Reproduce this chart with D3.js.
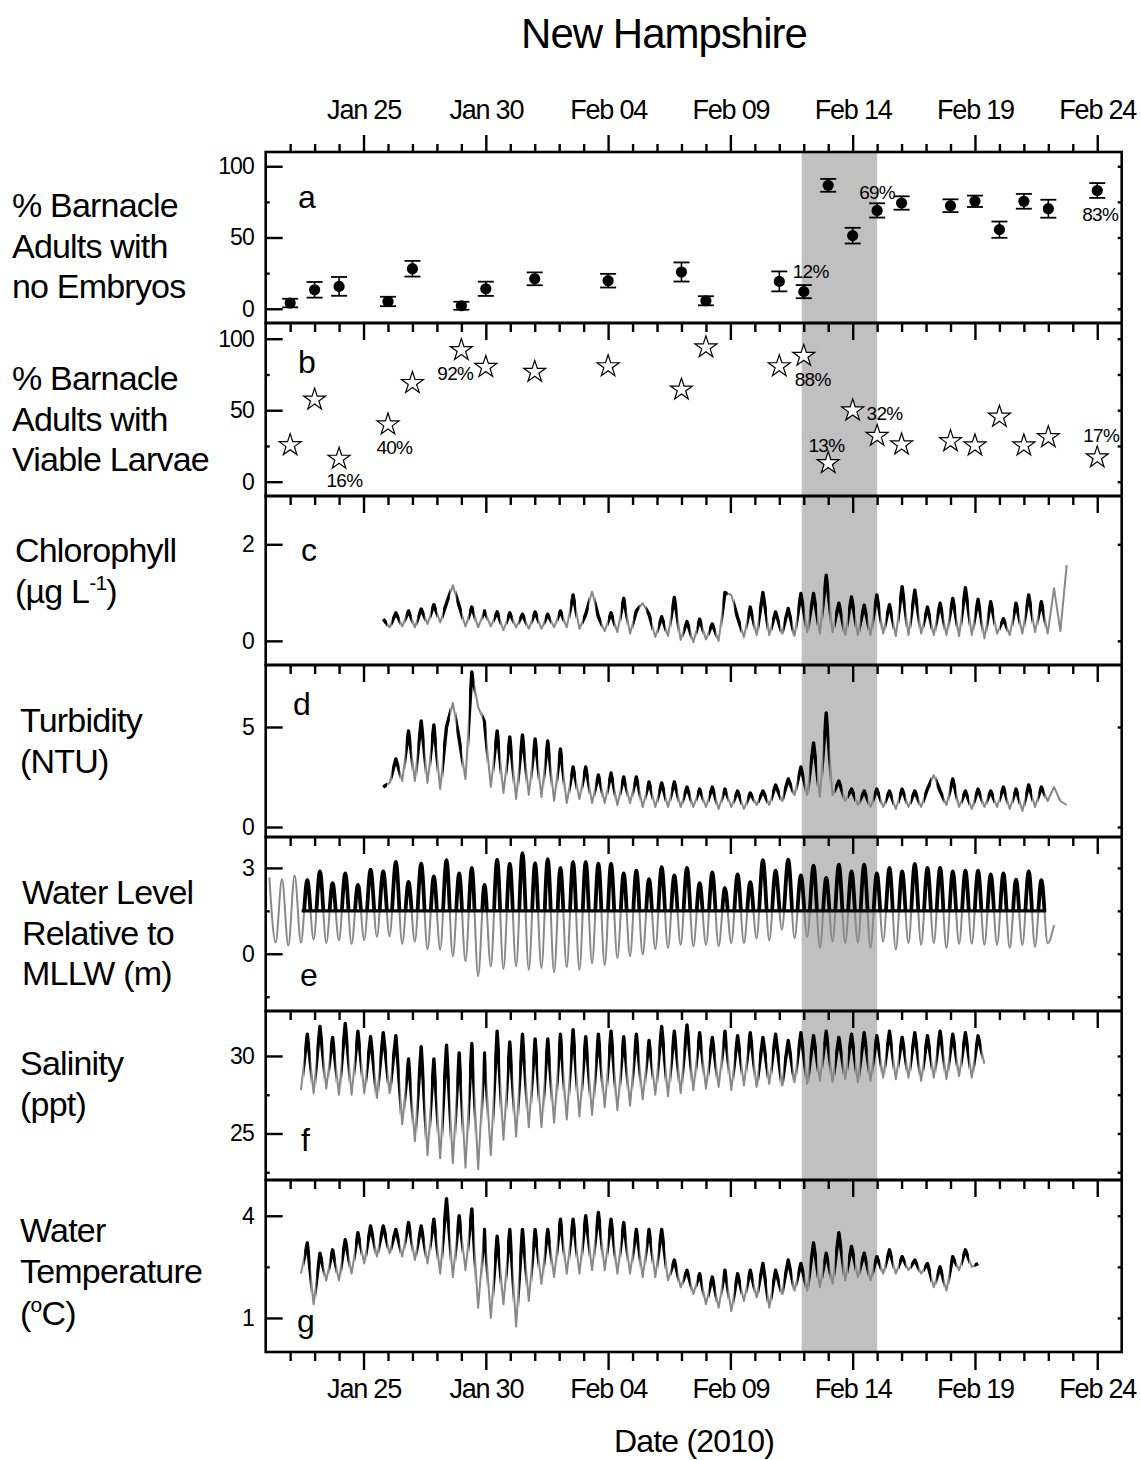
<!DOCTYPE html>
<html>
<head>
<meta charset="utf-8">
<title>New Hampshire</title>
<script src="https://d3js.org/d3.v7.min.js"></script>
<style>
  body { margin: 0; background: #fff; }
  text { font-family: "Liberation Sans", Arial, sans-serif; fill: #000; }
  .frame { fill: none; stroke: #000; stroke-width: 2.6; }
  .axis path { display: none; }
  .axis line { stroke: #000; stroke-width: 2.4; }
  .xaxis text { font-size: 27px; letter-spacing: -1.2px; }
  .yaxis text { font-size: 23px; letter-spacing: -1px; }
  .gray { fill: none; stroke: #888; stroke-width: 2; stroke-linejoin: round; }
  .black { fill: none; stroke: #000; stroke-width: 3.4; stroke-linejoin: round; }
  .lab { font-size: 34px; letter-spacing: -0.8px; }
  .letter { font-size: 32px; }
  .pct { font-size: 19px; letter-spacing: -0.7px; }
</style>
</head>
<body>
<svg width="1141" height="1460"></svg>
<script>
// ---------- survey data (panels a, b) ----------
var surveyDates = ["2010-01-22","2010-01-23","2010-01-24","2010-01-26","2010-01-27","2010-01-29","2010-01-30",
  "2010-02-01","2010-02-04","2010-02-07","2010-02-08","2010-02-11","2010-02-12","2010-02-13","2010-02-14",
  "2010-02-15","2010-02-16","2010-02-18","2010-02-19","2010-02-20","2010-02-21","2010-02-22","2010-02-24"];
var pctNoEmbryos = [4, 13.3, 15.7, 5.1, 28.1, 2.1, 14, 21, 19.7, 25.8, 5.6, 19.2, 12, 86.6, 51.3, 69, 74.2, 72.3, 75.4, 55.5, 75.4, 70.2, 83];
var pctNoEmbryosErr = [3, 5.5, 6.6, 3.3, 5.5, 2.8, 5, 4.5, 4.8, 6.7, 3.2, 7, 4.6, 4.5, 5.5, 5, 4.7, 4.5, 4, 5.7, 5.2, 6.3, 5.2];
var pctViableLarvae = [25.5, 57.4, 16, 40, 69, 92, 80.2, 76.8, 80.7, 64.4, 93.9, 80.7, 88, 13, 49.8, 32, 26, 28.3, 25.3, 45.4, 25.3, 31.1, 17];
var labelledNoEmbryos = [12, 15, 22];
var labelledViable = [2, 3, 5, 12, 13, 15, 22];

// spawning window (grey band)
var spawnWindow = ["2010-02-11T22:00", "2010-02-15T00:00"];

// ---------- sonde records: one value per half tidal cycle ----------
var tideOrigin = "2010-01-21T03:33";
var tideStepHours = 6.21;
var loggerRecord = ["2010-01-22T11:15", "2010-02-21T22:00"];
var inundationLevel = 1.5;

var waterLevelFirst = 0;
var waterLevel = [2.67, 0.39, 2.61, 0.28, 2.74, 0.39, 2.57, 0.50, 2.88, 0.37, 2.47, 0.47, 2.81, 0.34, 2.41, 0.47,
  2.94, 0.59, 2.88, 0.61, 3.21, 0.35, 2.51, 0.42, 3.15, 0.16, 2.70, 0.14, 3.27, -0.09, 2.81, -0.26, 3.0, -0.79,
  2.41, -0.44, 3.29, -0.53, 3.15, -0.44, 3.52, -0.56, 3.17, -0.5, 3.31, -0.65, 3.0, -0.47, 3.21, -0.56, 3.21, -0.33,
  3.15, -0.39, 3.15, -0.15, 2.81, -0.09, 2.9, -0.03, 2.61, 0.16, 3.03, 0.20, 2.74, 0.31, 3.0, 0.26, 2.47, 0.31,
  2.84, 0.26, 2.30, 0.37, 2.77, 0.37, 2.50, 0.54, 3.27, 0.46, 2.9, 0.84, 3.29, 0.54, 2.74, 0.59, 3.08, 0.2,
  2.65, 0.43, 3.11, 0.37, 2.88, 0.39, 3.11, 0.2, 2.81, 0.43, 3.0, 0.14, 2.88, 0.37, 3.14, 0.31, 3.0, 0.37,
  3.0, 0.2, 2.88, 0.34, 2.9, 0.35, 2.9, 0.31, 2.77, 0.31, 2.81, 0.2, 2.59, 0.31, 2.88, 0.24, 2.57, 0.37, 1.0];

var chlorophyllFirst = 18;
var chlorophyll = [0.45, 0.28, 0.58, 0.30, 0.62, 0.28, 0.66, 0.35, 0.75, 0.38, 0.78, 1.15, 0.72, 0.30, 0.70, 0.28,
  0.62, 0.30, 0.60, 0.22, 0.58, 0.28, 0.55, 0.25, 0.60, 0.25, 0.55, 0.28, 0.62, 0.28, 0.95, 0.25, 0.55, 1.02,
  0.50, 0.20, 0.58, 0.18, 0.88, 0.15, 0.62, 0.78, 0.55, 0.08, 0.50, 0.10, 0.90, 0.02, 0.40, -0.03, 0.45, 0.03,
  0.35, 0.00, 1.00, 0.95, 0.48, 0.08, 0.70, 0.12, 1.00, 0.12, 0.60, 0.15, 0.67, 0.10, 0.98, 0.18, 0.98, 0.15,
  1.36, 0.18, 0.78, 0.12, 0.91, 0.12, 0.74, 0.12, 0.95, 0.15, 0.75, 0.10, 1.12, 0.12, 1.05, 0.15, 0.70, 0.12,
  0.78, 0.12, 0.88, 0.10, 1.10, 0.12, 0.86, 0.05, 0.81, 0.15, 0.46, 0.12, 0.78, 0.15, 0.95, 0.18, 0.81, 0.15,
  1.09, 0.20, 1.57];

var turbidityFirst = 18;
var turbidity = [2.0, 2.2, 3.4, 2.3, 4.8, 2.3, 5.3, 2.2, 5.1, 1.9, 5.0, 6.2, 4.4, 2.4, 7.75, 6.0, 5.25, 2.0,
  4.8, 1.7, 4.5, 1.4, 4.6, 1.6, 4.4, 1.5, 4.3, 1.3, 3.9, 1.2, 3.0, 1.4, 3.0, 1.2, 2.6, 1.2, 2.7, 1.1, 2.5, 1.2,
  2.5, 1.0, 2.25, 1.0, 2.2, 1.0, 2.25, 1.0, 2.0, 1.0, 1.9, 1.0, 2.0, 0.9, 1.9, 1.0, 1.8, 0.9, 1.7, 1.1, 1.8, 1.1,
  2.1, 1.3, 2.4, 1.6, 3.0, 1.6, 4.2, 1.5, 5.7, 1.6, 2.3, 1.3, 1.9, 1.1, 1.8, 1.0, 1.9, 1.0, 1.8, 0.9, 1.9, 1.0,
  1.8, 1.0, 1.9, 2.6, 1.8, 1.1, 2.4, 1.0, 1.8, 0.9, 1.9, 1.0, 1.8, 1.0, 2.0, 0.9, 1.9, 0.8, 2.1, 1.0, 2.0, 1.3,
  2.0, 1.3, 1.1];

var salinityFirst = 5;
var salinity = [27.8, 31.4, 27.6, 31.9, 27.9, 31.2, 27.5, 32.1, 27.5, 31.6, 27.6, 31.25, 27.3, 31.5, 27.6, 31.3,
  25.6, 29.8, 24.5, 30.6, 23.6, 29.8, 23.4, 30.7, 23.1, 30.2, 22.8, 30.8, 22.7, 30.2, 23.6, 31.6, 24.6, 30.9,
  24.8, 31.4, 25.4, 31.1, 25.4, 31.1, 25.7, 31.4, 25.9, 31.7, 26.1, 31.25, 26.2, 31.4, 26.7, 31.6, 26.5, 31.25,
  26.8, 31.4, 27.2, 31.0, 27.5, 31.9, 27.4, 31.6, 27.6, 32.0, 27.8, 31.5, 27.9, 31.2, 28.0, 31.6, 27.8, 31.3,
  28.1, 31.5, 28.0, 31.2, 28.2, 31.4, 28.1, 31.0, 28.3, 31.5, 28.2, 31.3, 28.4, 31.6, 28.3, 31.2, 28.5, 31.4,
  28.3, 31.5, 28.4, 31.3, 28.6, 31.6, 28.5, 31.2, 28.6, 31.5, 28.4, 31.3, 28.6, 31.6, 28.5, 31.4, 28.7, 31.5,
  28.6, 31.3, 29.5];

var temperatureFirst = 5;
var temperature = [2.3, 3.2, 1.4, 2.9, 2.1, 3.0, 2.1, 3.3, 2.3, 3.5, 2.6, 3.7, 2.8, 3.7, 2.9, 3.6, 2.8, 3.8,
  2.7, 3.7, 2.6, 3.9, 2.3, 4.5, 2.2, 4.0, 2.4, 4.2, 1.3, 3.6, 1.0, 3.4, 1.4, 3.6, 0.75, 3.6, 1.5, 3.6, 2.0,
  3.6, 2.2, 3.9, 2.3, 3.9, 2.3, 4.0, 2.4, 4.1, 2.4, 3.9, 2.3, 3.8, 2.3, 3.6, 2.2, 3.6, 2.2, 3.6, 2.1, 2.7, 1.9,
  2.4, 1.7, 2.3, 1.4, 2.2, 1.3, 2.4, 1.2, 2.3, 1.5, 2.4, 1.6, 2.6, 1.3, 2.4, 1.7, 2.7, 1.8, 2.6, 1.8, 3.2, 1.9,
  2.9, 2.0, 3.5, 2.1, 3.1, 2.2, 2.9, 2.1, 2.8, 2.3, 3.0, 2.3, 2.8, 2.4, 2.7, 2.3, 2.6, 1.9, 2.5, 1.8, 2.8, 2.4,
  3.0, 2.5, 2.6];

// ---------- layout ----------
var svg = d3.select("svg");
svg.append("rect").attr("width", 1141).attr("height", 1460).attr("fill", "#fff");

var left = 265.7, right = 1121.7, top0 = 152, bottom0 = 1352;
var parseDay = d3.timeParse("%Y-%m-%d");
var parseTime = d3.timeParse("%Y-%m-%dT%H:%M");
var x = d3.scaleTime().domain([parseDay("2010-01-21"), parseDay("2010-02-25")]).range([left, right]);

var origin = parseTime(tideOrigin);
function gridTime(k) { return new Date(origin.getTime() + k * tideStepHours * 36e5); }
function toPoints(values, first) {
  return values.map(function(v, i) { return { t: gridTime(first + i), v: v }; });
}
var record = loggerRecord.map(parseTime);

var panels = [
  { id: "a", top: 152, bottom: 323, domain: [-10, 110], ticks: [0, 50, 100], minor: [25, 75],
    label: ["% Barnacle", "Adults with", "no Embryos"], lx: 12, ly: 217, letter: [298, 208] },
  { id: "b", top: 323, bottom: 496, domain: [-10, 111], ticks: [0, 50, 100], minor: [25, 75],
    label: ["% Barnacle", "Adults with", "Viable Larvae"], lx: 12, ly: 390, letter: [298, 373] },
  { id: "c", top: 496, bottom: 665, domain: [-0.5, 3.0], ticks: [0, 2], minor: [],
    label: ["Chlorophyll", null], lx: 15, ly: 562, letter: [301, 561] },
  { id: "d", top: 665, bottom: 837, domain: [-0.5, 8.1], ticks: [0, 5], minor: [],
    label: ["Turbidity", "(NTU)"], lx: 20, ly: 732, letter: [293, 715] },
  { id: "e", top: 837, bottom: 1011, domain: [-2, 4.08], ticks: [0, 3], minor: [-1.5, 1.5],
    label: ["Water Level", "Relative to", "MLLW (m)"], lx: 22, ly: 904, letter: [300, 986] },
  { id: "f", top: 1011, bottom: 1180, domain: [22, 32.9], ticks: [25, 30], minor: [22.5, 27.5],
    label: ["Salinity", "(ppt)"], lx: 20, ly: 1075, letter: [301, 1151] },
  { id: "g", top: 1180, bottom: 1352, domain: [0, 5.05], ticks: [1, 4], minor: [2.5],
    label: ["Water", "Temperature", null], lx: 20, ly: 1242, letter: [297, 1332] }
];
panels.forEach(function(p) {
  p.y = d3.scaleLinear().domain(p.domain).range([p.bottom, p.top]);
});
var P = {};
panels.forEach(function(p) { P[p.id] = p; });

// clip paths per panel
var defs = svg.append("defs");
panels.forEach(function(p) {
  defs.append("clipPath").attr("id", "clip-" + p.id).append("rect")
    .attr("x", left).attr("y", p.top).attr("width", right - left).attr("height", p.bottom - p.top);
});

// grey spawning band
var band = spawnWindow.map(parseTime);
svg.append("rect").attr("x", x(band[0])).attr("y", top0)
  .attr("width", x(band[1]) - x(band[0])).attr("height", bottom0 - top0).attr("fill", "#c0c0c0");

// inundation intervals from the water level record
function aboveIntervals(values, first, level) {
  var out = [], start = values[0] > level ? gridTime(first) : null;
  for (var i = 1; i < values.length; i++) {
    var a = values[i - 1], b = values[i];
    if ((a > level) !== (b > level)) {
      var t = gridTime(first + i - 1 + (level - a) / (b - a));
      if (b > level) start = t; else { out.push([start, t]); start = null; }
    }
  }
  if (start) out.push([start, gridTime(first + values.length - 1)]);
  return out;
}
var submerged = aboveIntervals(waterLevel, waterLevelFirst, inundationLevel)
  .map(function(iv) { return [d3.max([iv[0], record[0]]), d3.min([iv[1], record[1]])]; })
  .filter(function(iv) { return iv[1] > iv[0]; });

function drawSonde(p, values, first) {
  var pts = toPoints(values, first);
  var line = d3.line().x(function(d) { return x(d.t); }).y(function(d) { return p.y(d.v); });
  var cp = defs.append("clipPath").attr("id", "sub-" + p.id);
  cp.selectAll("rect").data(submerged).enter().append("rect")
    .attr("x", function(d) { return x(d[0]); }).attr("width", function(d) { return x(d[1]) - x(d[0]); })
    .attr("y", p.top).attr("height", p.bottom - p.top);
  var g = svg.append("g").attr("clip-path", "url(#clip-" + p.id + ")");
  g.append("path").datum(pts).attr("class", "gray").attr("d", line);
  g.append("path").datum(pts).attr("class", "black").attr("clip-path", "url(#sub-" + p.id + ")").attr("d", line);
}

drawSonde(P.c, chlorophyll, chlorophyllFirst);
drawSonde(P.d, turbidity, turbidityFirst);
drawSonde(P.f, salinity, salinityFirst);
drawSonde(P.g, temperature, temperatureFirst);

// water level: grey full tide, black above the inundation level while the logger is in
(function() {
  var p = P.e;
  var pts = toPoints(waterLevel, waterLevelFirst);
  var line = d3.line().curve(d3.curveMonotoneX)
    .x(function(d) { return x(d.t); }).y(function(d) { return p.y(d.v); });
  defs.append("clipPath").attr("id", "high-e").append("rect")
    .attr("x", x(record[0])).attr("width", x(record[1]) - x(record[0]))
    .attr("y", p.top).attr("height", p.y(inundationLevel) - p.top);
  var g = svg.append("g").attr("clip-path", "url(#clip-e)");
  g.append("path").datum(pts).attr("class", "gray").attr("d", line);
  g.append("path").datum(pts).attr("class", "black").style("stroke-width", 3.8)
    .attr("clip-path", "url(#high-e)").attr("d", line);
  g.append("line").attr("x1", x(record[0])).attr("x2", x(record[1]))
    .attr("y1", p.y(inundationLevel)).attr("y2", p.y(inundationLevel))
    .attr("stroke", "#000").attr("stroke-width", 3.4);
})();

// panel a: means with error bars
var survey = surveyDates.map(function(d, i) {
  return { t: parseDay(d), a: pctNoEmbryos[i], err: pctNoEmbryosErr[i], b: pctViableLarvae[i] };
});
var ga = svg.append("g");
var eb = ga.selectAll("g.eb").data(survey).enter().append("g");
eb.append("line").attr("x1", function(d) { return x(d.t); }).attr("x2", function(d) { return x(d.t); })
  .attr("y1", function(d) { return P.a.y(d.a + d.err); }).attr("y2", function(d) { return P.a.y(d.a - d.err); })
  .attr("stroke", "#000").attr("stroke-width", 1.6);
[1, -1].forEach(function(s) {
  eb.append("line").attr("x1", function(d) { return x(d.t) - 8; }).attr("x2", function(d) { return x(d.t) + 8; })
    .attr("y1", function(d) { return P.a.y(d.a + s * d.err); }).attr("y2", function(d) { return P.a.y(d.a + s * d.err); })
    .attr("stroke", "#000").attr("stroke-width", 1.8);
});
eb.append("circle").attr("cx", function(d) { return x(d.t); }).attr("cy", function(d) { return P.a.y(d.a); })
  .attr("r", 5.6).attr("fill", "#000");

// panel b: stars
svg.append("g").selectAll("path").data(survey).enter().append("path")
  .attr("d", d3.symbol().type(d3.symbolStar).size(150))
  .attr("transform", function(d) { return "translate(" + x(d.t) + "," + P.b.y(d.b) + ")"; })
  .attr("fill", "#fff").attr("stroke", "#000").attr("stroke-width", 1.2);

// percent annotations
var pctOffsetA = { 12: [-11, -14], 15: [-18, -11], 22: [-15, 31] };
var pctOffsetB = { 2: [-12.6, 28], 3: [-11.6, 29], 5: [-24, 30], 12: [-9, 30], 13: [-19.7, -11], 15: [-10.6, -16], 22: [-14, -15] };
labelledNoEmbryos.forEach(function(i) {
  var d = survey[i], o = pctOffsetA[i];
  svg.append("text").attr("class", "pct").attr("x", x(d.t) + o[0]).attr("y", P.a.y(d.a) + o[1])
    .text(Math.round(d.a) + "%");
});
labelledViable.forEach(function(i) {
  var d = survey[i], o = pctOffsetB[i];
  svg.append("text").attr("class", "pct").attr("x", x(d.t) + o[0]).attr("y", P.b.y(d.b) + o[1])
    .text(Math.round(d.b) + "%");
});

// ---------- frames and axes ----------
var days = d3.timeDay.range(parseDay("2010-01-22"), parseDay("2010-02-25"));
var majorDays = days.filter(function(d, i) { return (i - 3) % 5 === 0; });
var minorDays = days.filter(function(d, i) { return (i - 3) % 5 !== 0; });
var fmt = d3.timeFormat("%b %d");

panels.forEach(function(p, pi) {
  svg.append("rect").attr("class", "frame").attr("x", left).attr("y", p.top)
    .attr("width", right - left).attr("height", p.bottom - p.top);

  // x ticks along the top edge
  if (pi === 0) {
    svg.append("g").attr("class", "axis xaxis").attr("transform", "translate(0," + p.top + ")")
      .call(d3.axisTop(x).tickValues(majorDays).tickSizeInner(17).tickSizeOuter(0).tickPadding(16).tickFormat(fmt));
    svg.append("g").attr("class", "axis").attr("transform", "translate(0," + p.top + ")")
      .call(d3.axisTop(x).tickValues(minorDays).tickSizeInner(8).tickSizeOuter(0).tickFormat(""));
  } else {
    svg.append("g").attr("class", "axis").attr("transform", "translate(0," + p.top + ")")
      .call(d3.axisBottom(x).tickValues(majorDays).tickSizeInner(17).tickSizeOuter(0).tickFormat(""));
    svg.append("g").attr("class", "axis").attr("transform", "translate(0," + p.top + ")")
      .call(d3.axisBottom(x).tickValues(minorDays).tickSizeInner(9).tickSizeOuter(0).tickFormat(""));
  }

  // y ticks
  svg.append("g").attr("class", "axis yaxis").attr("transform", "translate(" + left + ",0)")
    .call(d3.axisLeft(p.y).tickValues(p.ticks).tickSizeInner(-17).tickSizeOuter(0).tickPadding(12).tickFormat(d3.format("d")));
  svg.append("g").attr("class", "axis").attr("transform", "translate(" + left + ",0)")
    .call(d3.axisLeft(p.y).tickValues(p.minor).tickSizeInner(-4).tickSizeOuter(0).tickFormat(""));
  svg.append("g").attr("class", "axis").attr("transform", "translate(" + right + ",0)")
    .call(d3.axisRight(p.y).tickValues(p.ticks.concat(p.minor)).tickSizeInner(-4).tickSizeOuter(0).tickFormat(""));

  // panel letter
  svg.append("text").attr("class", "letter").attr("x", p.letter[0]).attr("y", p.letter[1]).text(p.id);

  // side label
  var t = svg.append("text").attr("class", "lab").attr("x", p.lx).attr("y", p.ly);
  p.label.forEach(function(s, li) {
    if (s) t.append("tspan").attr("x", p.lx).attr("dy", li ? 40.5 : 0).text(s);
  });
});

// labels with superscripts
var chlUnit = svg.append("text").attr("class", "lab").attr("x", P.c.lx).attr("y", P.c.ly + 40.5);
chlUnit.append("tspan").text("(\u00b5g L");
chlUnit.append("tspan").attr("dy", -13).style("font-size", "21px").text("-1");
chlUnit.append("tspan").attr("dy", 13).text(")");
var tUnit = svg.append("text").attr("class", "lab").attr("x", P.g.lx).attr("y", P.g.ly + 83);
tUnit.append("tspan").text("(");
tUnit.append("tspan").attr("dy", -13).style("font-size", "21px").text("o");
tUnit.append("tspan").attr("dy", 13).text("C)");

// bottom axis
svg.append("g").attr("class", "axis xaxis").attr("transform", "translate(0," + bottom0 + ")")
  .call(d3.axisBottom(x).tickValues(majorDays).tickSizeInner(18).tickSizeOuter(0).tickPadding(9).tickFormat(fmt));
svg.append("g").attr("class", "axis").attr("transform", "translate(0," + bottom0 + ")")
  .call(d3.axisBottom(x).tickValues(minorDays).tickSizeInner(9).tickSizeOuter(0).tickFormat(""));

// titles
svg.append("text").attr("x", 664).attr("y", 48).attr("text-anchor", "middle")
  .style("font-size", "42px").style("letter-spacing", "-1px").text("New Hampshire");
svg.append("text").attr("x", 694).attr("y", 1452).attr("text-anchor", "middle")
  .style("font-size", "32px").style("letter-spacing", "-0.8px").text("Date (2010)");
</script>
</body>
</html>
